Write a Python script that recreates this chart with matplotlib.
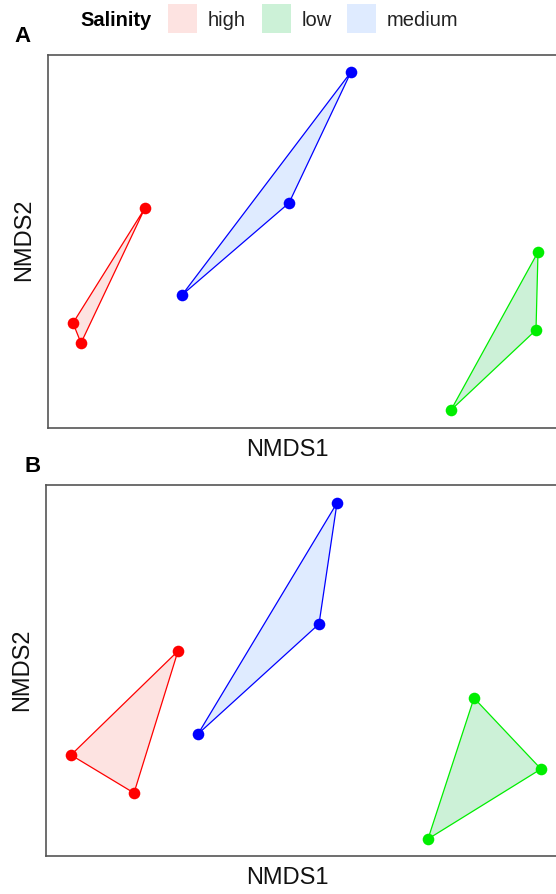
import matplotlib
matplotlib.use("Agg")
import matplotlib.pyplot as plt
from matplotlib.patches import Polygon, Rectangle

plt.rcParams['font.family'] = ['Liberation Sans', 'DejaVu Sans']

groups = ["high", "low", "medium"]
point_colors = {"high": "#FF0000", "low": "#00EE00", "medium": "#0000FF"}
fill_colors = {"high": "#F8766D", "low": "#00BA38", "medium": "#619CFF"}

# Panel A NMDS scores (ordered as hull vertices)
a_high_x = [-0.775, -1.135, -1.095]
a_high_y = [0.160, -0.415, -0.515]
a_low_x = [1.190, 1.180, 0.755]
a_low_y = [-0.060, -0.450, -0.850]
a_med_x = [0.255, -0.055, -0.590]
a_med_y = [0.840, 0.185, -0.275]

# Panel B NMDS scores
b_high_x = [-0.610, -1.145, -0.830]
b_high_y = [0.095, -0.425, -0.615]
b_low_x = [0.870, 1.205, 0.640]
b_low_y = [-0.140, -0.495, -0.845]
b_med_x = [0.185, 0.095, -0.510]
b_med_y = [0.835, 0.230, -0.320]

panel_a = {"high": (a_high_x, a_high_y), "low": (a_low_x, a_low_y), "medium": (a_med_x, a_med_y)}
panel_b = {"high": (b_high_x, b_high_y), "low": (b_low_x, b_low_y), "medium": (b_med_x, b_med_y)}

W, H = 556, 894
fig = plt.figure(figsize=(W / 100, H / 100), dpi=100)

def px_axes(left, top, right, bottom):
    return fig.add_axes([left / W, 1 - bottom / H, (right - left) / W, (bottom - top) / H])

axA = px_axes(48, 55, 558, 428)
axB = px_axes(46, 485, 558, 856)

def draw(ax, data, xlim, ylim):
    for g in groups:
        xs, ys = data[g]
        poly = Polygon(list(zip(xs, ys)), closed=True, facecolor=fill_colors[g],
                       alpha=0.2, edgecolor="none", zorder=1)
        ax.add_patch(poly)
        outline = Polygon(list(zip(xs, ys)), closed=True, facecolor="none",
                          edgecolor=point_colors[g], lw=0.9, zorder=2)
        ax.add_patch(outline)
        ax.scatter(xs, ys, s=70, color=point_colors[g], zorder=3, linewidths=0)
    ax.set_xlim(*xlim)
    ax.set_ylim(*ylim)
    ax.set_xticks([])
    ax.set_yticks([])
    for s in ax.spines.values():
        s.set_color("#555555")
        s.set_linewidth(1.2)
    ax.spines["right"].set_visible(False)

draw(axA, panel_a, (-1.26, 1.29), (-0.94, 0.925))
draw(axB, panel_b, (-1.27, 1.29), (-0.93, 0.925))

# axis labels
fig.text(287 / W, 1 - 450 / H, "NMDS1", ha="center", va="center", fontsize=17, color="#111111")
fig.text(287 / W, 1 - 878 / H, "NMDS1", ha="center", va="center", fontsize=17, color="#111111")
fig.text(24 / W, 1 - 240 / H, "NMDS2", ha="center", va="center", rotation=90, fontsize=17, color="#111111")
fig.text(22 / W, 1 - 670 / H, "NMDS2", ha="center", va="center", rotation=90, fontsize=17, color="#111111")

# panel tags
fig.text(14 / W, 1 - 37 / H, "A", ha="left", va="center", fontsize=16, fontweight="bold")
fig.text(25 / W, 1 - 466 / H, "B", ha="left", va="center", fontsize=16, fontweight="bold")

# legend
fig.text(80 / W, 1 - 20 / H, "Salinity", ha="left", va="center", fontsize=14.5, fontweight="bold")
patch_x = [168, 262, 347]
label_x = [208, 302, 387]
for g, px, lx in zip(groups, patch_x, label_x):
    r = Rectangle((px / W, 1 - 33 / H), 29 / W, 29 / H, transform=fig.transFigure,
                  facecolor=fill_colors[g], alpha=0.2, edgecolor="none")
    fig.add_artist(r)
    fig.text(lx / W, 1 - 20 / H, g, ha="left", va="center", fontsize=14.5, color="#222222")

fig.savefig("out.png", dpi=100)
